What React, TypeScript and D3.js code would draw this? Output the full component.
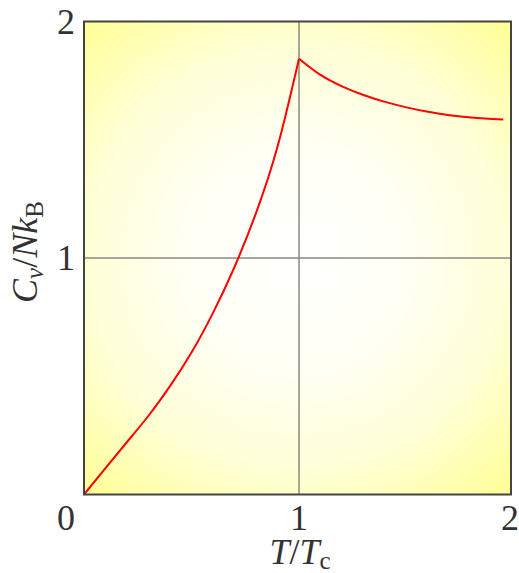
import React from "react";
import * as d3 from "d3";

const tempLeft = [0, 0.1, 0.2, 0.3, 0.4, 0.5, 0.6, 0.7, 0.8, 0.9, 1.0];
const heatLeft = [0, 0.112, 0.222, 0.333, 0.458, 0.6, 0.768, 0.962, 1.19, 1.47, 1.843];
const tempRight = [1.0, 1.1, 1.2, 1.3, 1.4, 1.5, 1.6, 1.7, 1.8, 1.9, 1.95];
const heatRight = [1.843, 1.774, 1.726, 1.689, 1.66, 1.637, 1.618, 1.604, 1.594, 1.588, 1.586];
const xTicks = ["1", "2"];
const yTicks = ["1", "2"];

const W = 519;
const H = 573;

export default function App() {
  const x = d3.scaleLinear().domain([0, 2]).range([84, 514]);
  const y = d3.scaleLinear().domain([0, 2]).range([494.5, 21.5]);
  const frameRight = 511;
  const line = d3
    .line<[number, number]>()
    .x((d) => x(d[0]))
    .y((d) => y(d[1]))
    .curve(d3.curveNatural);
  const left: [number, number][] = tempLeft.map((t, i) => [t, heatLeft[i]]);
  const right: [number, number][] = tempRight.map((t, i) => [t, heatRight[i]]);
  const font = "'Liberation Serif', 'Times New Roman', serif";
  const fs = 36;
  const color = "#333";
  const cx = (x(0) + frameRight) / 2;
  const cy = y(1);
  return (
    <svg width={W} height={H} style={{ position: "absolute", left: 0, top: 0 }} fontFamily={font}>
      <defs>
        <radialGradient id="bg" gradientUnits="userSpaceOnUse" cx={cx} cy={cy} r={320}>
          <stop offset="0" stopColor="#ffffff" />
          <stop offset="0.35" stopColor="#fffff4" />
          <stop offset="0.67" stopColor="#ffffd6" />
          <stop offset="1" stopColor="#ffff94" />
        </radialGradient>
      </defs>
      <rect x={x(0)} y={y(2)} width={frameRight - x(0)} height={y(0) - y(2)} fill="url(#bg)" />
      <line x1={x(1)} x2={x(1)} y1={y(2)} y2={y(0)} stroke="#8a8a80" strokeWidth={1.5} />
      <line x1={x(0)} x2={frameRight} y1={y(1)} y2={y(1)} stroke="#8a8a80" strokeWidth={1.5} />
      <path d={line(left) || ""} fill="none" stroke="#ff0000" strokeWidth={2} />
      <path d={line(right) || ""} fill="none" stroke="#ff0000" strokeWidth={2} />
      <rect x={x(0)} y={y(2)} width={frameRight - x(0)} height={y(0) - y(2)} fill="none" stroke="#444" strokeWidth={2} />
      {/* tick labels */}
      <text x={66} y={530} fontSize={fs} fill={color} textAnchor="middle">0</text>
      {yTicks.map((t, i) => (
        <text key={"y" + t} x={66} y={y(i + 1) + 12} fontSize={fs} fill={color} textAnchor="middle">{t}</text>
      ))}
      {xTicks.map((t, i) => (
        <text key={"x" + t} x={Math.min(x(i + 1), 510)} y={530} fontSize={fs} fill={color} textAnchor="middle">{t}</text>
      ))}
      {/* x title */}
      <text x={300} y={564} fontSize={fs} fill={color} textAnchor="middle">
        <tspan fontStyle="italic">T</tspan>
        <tspan>/</tspan>
        <tspan fontStyle="italic">T</tspan>
        <tspan fontSize={25} dy={5}>c</tspan>
      </text>
      {/* y title */}
      <text transform="translate(37,252) rotate(-90)" fontSize={fs} fill={color} textAnchor="middle">
        <tspan fontStyle="italic">C</tspan>
        <tspan fontStyle="italic" fontSize={25} dy={6}>ν</tspan>
        <tspan dy={-6}>/</tspan>
        <tspan fontStyle="italic">Nk</tspan>
        <tspan fontSize={25} dy={6}>B</tspan>
      </text>
    </svg>
  );
}
